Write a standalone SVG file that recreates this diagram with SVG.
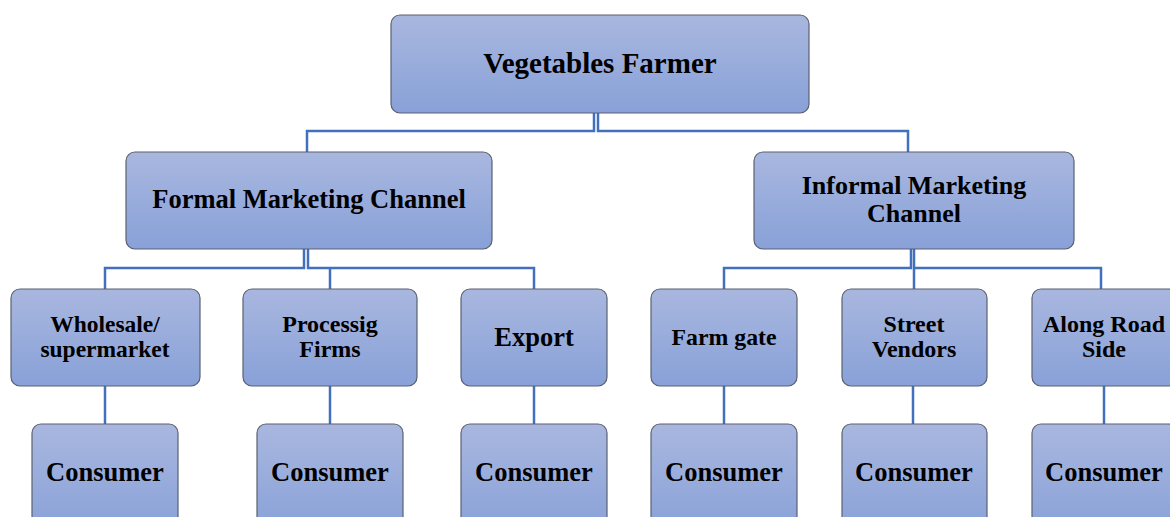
<svg xmlns="http://www.w3.org/2000/svg" width="1170" height="517" viewBox="0 0 1170 517">
<defs>
<linearGradient id="g" x1="0" y1="0" x2="0" y2="1">
<stop offset="0" stop-color="#a9b7df"/>
<stop offset="1" stop-color="#88a1d8"/>
</linearGradient>
<style>
.box{fill:url(#g);stroke:#5a6170;stroke-width:1.2}
.t{font-family:"Liberation Serif","Times New Roman",serif;font-weight:bold;fill:#000;text-anchor:middle}
.c{fill:none;stroke:#4270bd;stroke-width:2.5}
</style>
</defs>
<rect width="1170" height="517" fill="#fff"/>
<g id="connectors">
<path class="c" d="M594 113V131H307V152"/>
<path class="c" d="M598 113V131H908V152"/>
<path class="c" d="M304 249V268H105V289"/>
<path class="c" d="M308 249V268H534V289M330 268V289"/>
<path class="c" d="M911 249V268H724V289"/>
<path class="c" d="M914 249V268H1101V289M914 268V289"/>
<path class="c" d="M105 386V424M330 386V424M534 386V424M724 386V424M913 386V424M1104 386V424"/>
</g>
<g id="farmer"><rect class="box" x="391" y="15" width="418" height="98" rx="9"/><text class="t" x="600" y="73" font-size="29">Vegetables Farmer</text></g>
<g id="formal"><rect class="box" x="126" y="152" width="366" height="97" rx="9"/><text class="t" x="309" y="208" font-size="26.5">Formal Marketing Channel</text></g>
<g id="informal"><rect class="box" x="754" y="152" width="320" height="97" rx="9"/><text class="t" x="914" y="194" font-size="26">Informal Marketing</text><text class="t" x="914" y="222" font-size="26">Channel</text></g>
<g id="wholesale"><rect class="box" x="11" y="289" width="189" height="97" rx="9"/><text class="t" x="105" y="332" font-size="23.5">Wholesale/</text><text class="t" x="105" y="357" font-size="23.5">supermarket</text></g>
<g id="processing"><rect class="box" x="243" y="289" width="174" height="97" rx="9"/><text class="t" x="330" y="332" font-size="24">Processig</text><text class="t" x="330" y="357" font-size="24">Firms</text></g>
<g id="export"><rect class="box" x="461" y="289" width="146" height="97" rx="9"/><text class="t" x="534" y="346" font-size="26.5">Export</text></g>
<g id="farmgate"><rect class="box" x="651" y="289" width="146" height="97" rx="9"/><text class="t" x="724" y="345" font-size="23.8">Farm gate</text></g>
<g id="street"><rect class="box" x="842" y="289" width="145" height="97" rx="9"/><text class="t" x="914" y="332" font-size="24">Street</text><text class="t" x="914" y="357" font-size="24">Vendors</text></g>
<g id="roadside"><rect class="box" x="1032" y="289" width="146" height="97" rx="9"/><text class="t" x="1104" y="332" font-size="24">Along Road</text><text class="t" x="1104" y="357" font-size="24">Side</text></g>
<g id="consumer1"><rect class="box" x="32" y="424" width="146" height="110" rx="9"/><text class="t" x="105" y="481" font-size="26.5">Consumer</text></g>
<g id="consumer2"><rect class="box" x="257" y="424" width="146" height="110" rx="9"/><text class="t" x="330" y="481" font-size="26.5">Consumer</text></g>
<g id="consumer3"><rect class="box" x="461" y="424" width="146" height="110" rx="9"/><text class="t" x="534" y="481" font-size="26.5">Consumer</text></g>
<g id="consumer4"><rect class="box" x="651" y="424" width="146" height="110" rx="9"/><text class="t" x="724" y="481" font-size="26.5">Consumer</text></g>
<g id="consumer5"><rect class="box" x="842" y="424" width="145" height="110" rx="9"/><text class="t" x="914" y="481" font-size="26.5">Consumer</text></g>
<g id="consumer6"><rect class="box" x="1032" y="424" width="146" height="110" rx="9"/><text class="t" x="1104" y="481" font-size="26.5">Consumer</text></g>
</svg>
